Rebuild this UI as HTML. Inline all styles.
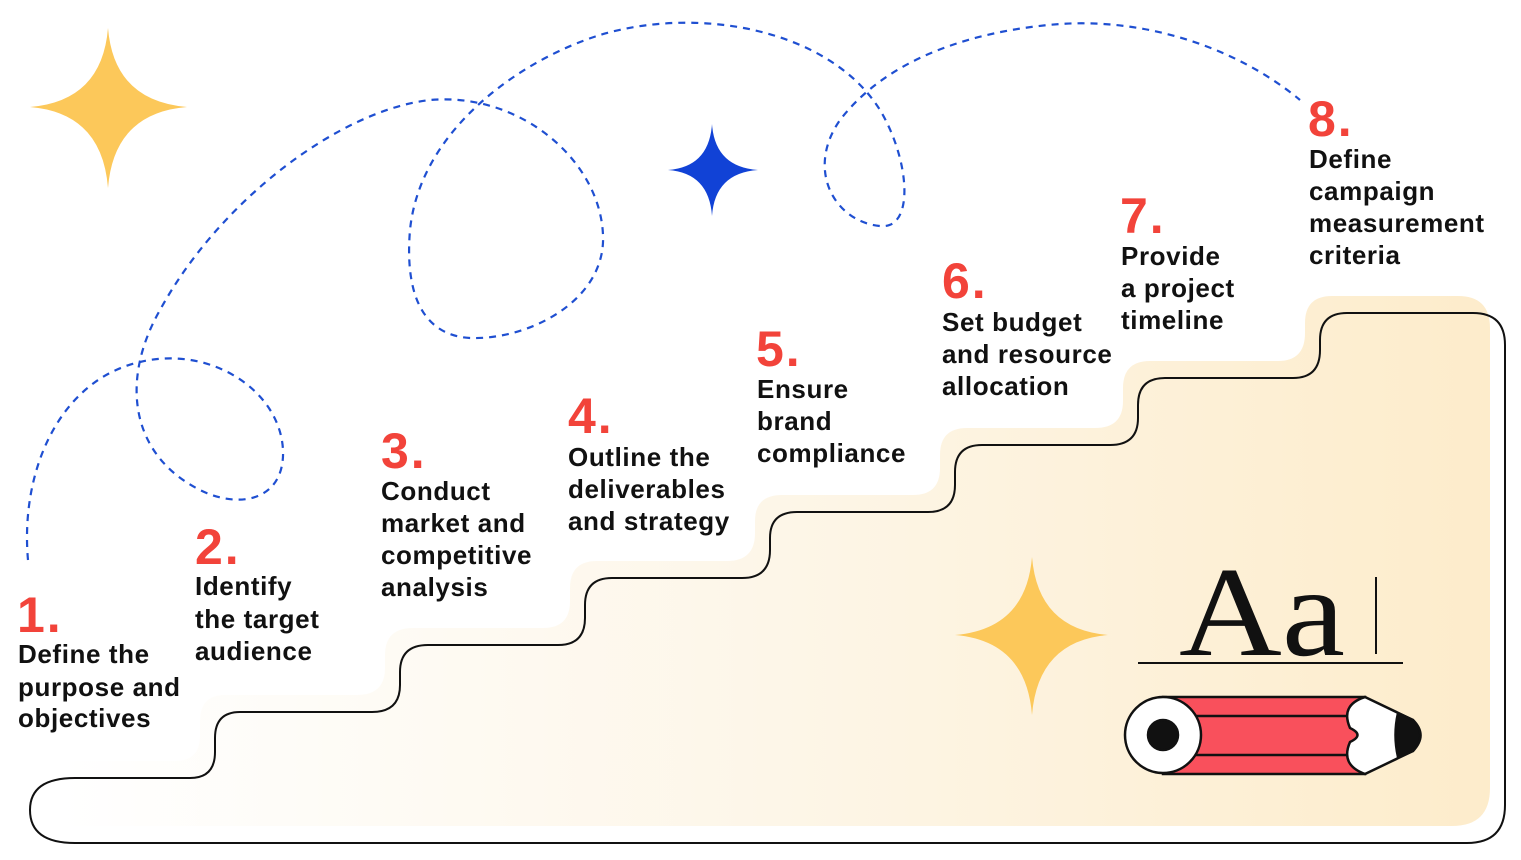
<!DOCTYPE html>
<html><head><meta charset="utf-8"><style>
body{margin:0;background:#fff;width:1521px;height:860px;overflow:hidden}
svg{display:block}
.n{font-family:"Liberation Sans",sans-serif;font-weight:700;font-size:50px;fill:#f2433a;letter-spacing:2px}
.t{font-family:"Liberation Sans",sans-serif;font-weight:700;font-size:26px;fill:#111;letter-spacing:0.6px}
</style></head><body>
<svg width="1521" height="860" viewBox="0 0 1521 860">
<defs>
<linearGradient id="g" x1="0" x2="1" y1="0" y2="0">
<stop offset="0" stop-color="#fff"/><stop offset="0.5" stop-color="#fdf6e8"/><stop offset="1" stop-color="#fdeccb"/>
</linearGradient>
</defs>
<g transform="translate(-15,-17)">
<path fill="url(#g)" d="M75,778 H190 Q215,778 215,752 V738 Q215,712 240,712 H372 Q400,712 400,685 V672 Q400,645 428,645 H558 Q585,645 585,618 V605 Q585,578 612,578 H742 Q770,578 770,550 V538 Q770,512 797,512 H928 Q955,512 955,485 V472 Q955,445 982,445 H1110 Q1138,445 1138,418 V405 Q1138,378 1165,378 H1293 Q1320,378 1320,350 V340 Q1320,313 1347,313 H1473 Q1505,313 1505,345 V805 Q1505,843 1467,843 H75 Z"/>
</g>
<path fill="none" stroke="#111" stroke-width="2" d="M75,778 H190 Q215,778 215,752 V738 Q215,712 240,712 H372 Q400,712 400,685 V672 Q400,645 428,645 H558 Q585,645 585,618 V605 Q585,578 612,578 H742 Q770,578 770,550 V538 Q770,512 797,512 H928 Q955,512 955,485 V472 Q955,445 982,445 H1110 Q1138,445 1138,418 V405 Q1138,378 1165,378 H1293 Q1320,378 1320,350 V340 Q1320,313 1347,313 H1473 Q1505,313 1505,345 V805 Q1505,843 1467,843 H75 Q30,843 30,810 Q30,778 75,778 Z"/>
<path fill="none" stroke="#1f4fd1" stroke-width="2.2" stroke-dasharray="7,6" d="M28,560 C20,470 60,380 140,362 C210,345 280,390 283,450 C285,500 240,510 200,490 C130,455 120,380 160,310 C220,200 340,110 430,100 C520,92 600,160 603,235 C606,300 530,340 470,338 C420,335 405,290 410,230 C420,130 520,60 600,35 C700,5 830,30 880,110 C910,160 915,230 880,226 C835,222 805,170 840,120 C890,55 980,30 1060,24 C1150,18 1240,50 1300,100"/>
<g fill="#fcc85a">
<path d="M108,28 Q114,101 187,107 Q114,113 108,188 Q102,113 30,107 Q102,101 108,28 Z"/>
<path d="M1032,557 Q1038,629 1108,635 Q1038,641 1032,715 Q1026,641 955,635 Q1026,629 1032,557 Z"/>
</g>
<path fill="#1142d6" d="M712,124 Q715,167 758,170 Q715,173 712,216 Q709,173 668,170 Q709,167 712,124 Z"/>
<g>
<text class="n" x="17" y="632">1.</text>
<text class="t" x="18" y="663">Define the</text><text class="t" x="18" y="696">purpose and</text><text class="t" x="18" y="727">objectives</text>
<text class="n" x="195" y="564">2.</text>
<text class="t" x="195" y="595">Identify</text><text class="t" x="195" y="628">the target</text><text class="t" x="195" y="660">audience</text>
<text class="n" x="381" y="468">3.</text>
<text class="t" x="381" y="500">Conduct</text><text class="t" x="381" y="532">market and</text><text class="t" x="381" y="564">competitive</text><text class="t" x="381" y="596">analysis</text>
<text class="n" x="568" y="433">4.</text>
<text class="t" x="568" y="466">Outline the</text><text class="t" x="568" y="498">deliverables</text><text class="t" x="568" y="530">and strategy</text>
<text class="n" x="756" y="366">5.</text>
<text class="t" x="757" y="398">Ensure</text><text class="t" x="757" y="430">brand</text><text class="t" x="757" y="462">compliance</text>
<text class="n" x="942" y="298">6.</text>
<text class="t" x="942" y="331">Set budget</text><text class="t" x="942" y="363">and resource</text><text class="t" x="942" y="395">allocation</text>
<text class="n" x="1120" y="233">7.</text>
<text class="t" x="1121" y="265">Provide</text><text class="t" x="1121" y="297">a project</text><text class="t" x="1121" y="329">timeline</text>
<text class="n" x="1308" y="136">8.</text>
<text class="t" x="1309" y="168">Define</text><text class="t" x="1309" y="200">campaign</text><text class="t" x="1309" y="232">measurement</text><text class="t" x="1309" y="264">criteria</text>
</g>
<text x="1179" y="655" font-family="'Liberation Serif',serif" font-size="128" fill="#111" textLength="166" lengthAdjust="spacingAndGlyphs">Aa</text>
<line x1="1376" y1="577" x2="1376" y2="654" stroke="#111" stroke-width="2"/>
<line x1="1138" y1="663" x2="1403" y2="663" stroke="#111" stroke-width="2"/>
<g stroke="#111" stroke-width="2.5">
<path fill="#f9505c" d="M1163,697 H1365 V774 H1163 Z"/>
<line x1="1190" y1="716" x2="1355" y2="716"/><line x1="1190" y1="755" x2="1355" y2="755"/>
<path fill="#fff" d="M1365,697 L1413,720 Q1425,735 1413,751 L1365,774 Q1340,765 1350,742 Q1365,735 1350,728 Q1340,705 1365,697 Z"/>
<path fill="#111" d="M1398,713 L1413,720 Q1428,735 1413,751 L1398,757 Q1393,735 1398,713 Z"/>
<circle cx="1163" cy="735" r="38" fill="#fff"/>
<circle cx="1163" cy="735" r="15" fill="#111"/>
</g>
</svg>
</body></html>
